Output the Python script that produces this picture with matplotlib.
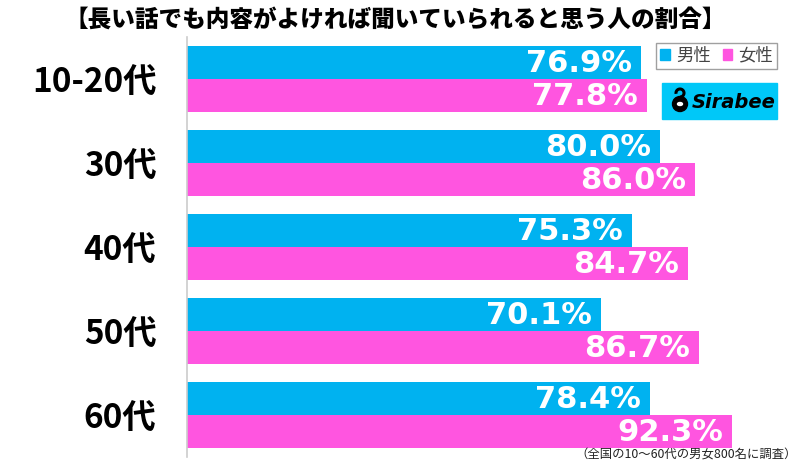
import matplotlib.pyplot as plt
import matplotlib.patches as mpatches
import numpy as np

JP = ["Noto Sans CJK JP", "DejaVu Sans"]

# ---------------------------------------------------------------- datos
titulo = "【長い話でも内容がよければ聞いていられると思う人の割合】"
edades = ["10-20代", "30代", "40代", "50代", "60代"]
hombres = [76.9, 80.0, 75.3, 70.1, 78.4]
mujeres = [77.8, 86.0, 84.7, 86.7, 92.3]
series = ["男性", "女性"]
nota = "（全国の10～60代の男女800名に調査）"

C_H = "#00B2F0"
C_M = "#FF55E0"
W, H = 800, 466

fig = plt.figure(figsize=(W/100, H/100), dpi=100)
ax = fig.add_axes([187/W, 9/H, 591/W, 420/H])

y = np.arange(len(edades))
h = 0.397
b1 = ax.barh(y - h/2, hombres, height=h, color=C_H, label=series[0])
b2 = ax.barh(y + h/2, mujeres, height=h, color=C_M, label=series[1])

ax.set_xlim(0, 100)
ax.set_ylim(len(edades) - 0.5, -0.5)
ax.set_xticks([])
ax.set_yticks(y)
ax.set_yticklabels(edades, family=JP, fontsize=24, fontweight="bold")
ax.tick_params(axis="y", length=0, pad=22)
for s in ("top", "right", "bottom"):
    ax.spines[s].set_visible(False)
ax.spines["left"].set_color("#CCCCCC")
ax.spines["left"].set_linewidth(1.2)

# etiquetas de valor
for bars, vals in ((b1, hombres), (b2, mujeres)):
    for bar, v in zip(bars, vals):
        ax.annotate(f"{v:.1f}%", (v, bar.get_y() + bar.get_height()/2),
                    xytext=(-9, -1), textcoords="offset pixels",
                    ha="right", va="center", color="white",
                    fontsize=22, fontweight="bold", family="DejaVu Sans")

# titulo y nota
fig.text(0.494, 1 - 19/H, titulo, ha="center", va="center",
         family=JP, fontsize=17, fontweight="heavy")
fig.text(797/W, 1 - 455/H, nota, ha="right", va="center",
         family=JP, fontsize=8.9, color="#222222")

# leyenda
handles = [mpatches.Patch(color=C_H), mpatches.Patch(color=C_M)]
leg = fig.legend(handles, series, loc="upper right",
                 bbox_to_anchor=(777/W, 1 - 43/H), ncol=2,
                 prop={"family": JP, "size": 12.5}, frameon=True,
                 fancybox=False, edgecolor="#888888", handlelength=0.55,
                 handleheight=0.55, handletextpad=0.35, columnspacing=0.7,
                 borderpad=0.22, borderaxespad=0)
for t in leg.get_texts():
    t.set_color("#444444")
leg.get_frame().set_linewidth(1.0)

# logo Sirabee
fig.patches.append(mpatches.Rectangle((662/W, 1 - 119/H), 115/W, 36/H,
                                      transform=fig.transFigure,
                                      color="#00C8F8", zorder=1))
fig.patches.append(mpatches.Ellipse((680/W, 1 - 104/H), 15/W, 15/H,
                                    transform=fig.transFigure,
                                    color="black", zorder=2))
fig.patches.append(mpatches.Ellipse((680/W, 1 - 104/H), 5/W, 3/H,
                                    transform=fig.transFigure,
                                    color="white", zorder=3))
fig.patches.append(mpatches.Arc((680/W, 1 - 93/H), 8/W, 8/H,
                                theta1=-90, theta2=200, lw=2.2,
                                transform=fig.transFigure,
                                color="black", zorder=2))
fig.text(692/W, 1 - 102/H, "Sirabee", ha="left", va="center",
         fontsize=14, fontweight="bold", style="italic",
         family="DejaVu Sans", color="black")

fig.savefig("out.png", dpi=100)
